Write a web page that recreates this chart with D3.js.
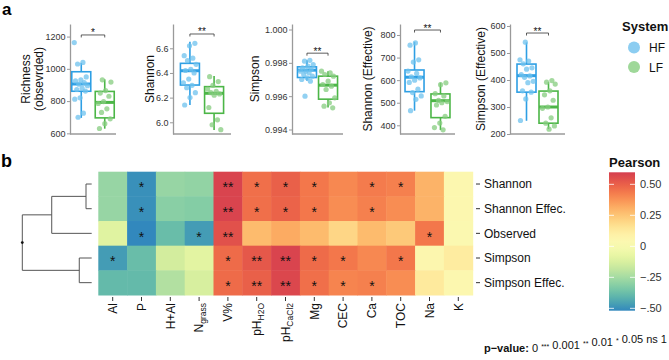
<!DOCTYPE html>
<html>
<head>
<meta charset="utf-8">
<script src="https://cdn.jsdelivr.net/npm/d3@7"></script>
<style>
  body { margin: 0; background: #fff; }
  svg { font-family: "Liberation Sans", Arial, sans-serif; }
</style>
</head>
<body>
<div id="container"></div>
<script>
/* CONSTANTS AND GLOBALS */
const width = 669, height = 360;

/* ---------- PANEL a DATA ---------- */
const groups = ["HF", "LF"];
const sigLabels = ["*", "**", "**", "**", "**"];
const sigY = [1210, 6.716, 0.99858, 822, 574]; // bracket height, in data units

// sample values (jittered dots)
const richnessHF = [1163, 1040, 1030, 950, 932, 925, 915, 905, 895, 880, 872, 862, 820, 812, 725, 700];
const richnessLF = [932, 918, 865, 850, 830, 797, 785, 752, 730, 690, 660, 630];
const shannonHF = [6.64, 6.62, 6.54, 6.52, 6.50, 6.47, 6.43, 6.42, 6.40, 6.35, 6.32, 6.30, 6.28, 6.24, 6.20, 6.14];
const shannonLF = [6.37, 6.33, 6.30, 6.27, 6.25, 6.24, 6.23, 6.22, 6.12, 6.02, 5.98, 5.94];
const simpsonHF = [0.99815, 0.9981, 0.9979, 0.9978, 0.9977, 0.9976, 0.9975, 0.9975, 0.9974, 0.9973, 0.9972, 0.9971, 0.9970, 0.9969, 0.9960];
const simpsonLF = [0.9975, 0.9974, 0.9973, 0.9972, 0.9969, 0.9967, 0.9966, 0.9964, 0.9959, 0.9956, 0.9954, 0.9953];
const shannonEffHF = [765, 755, 690, 680, 640, 630, 615, 610, 600, 590, 560, 545, 530, 515, 465];
const shannonEffLF = [588, 580, 540, 530, 510, 505, 500, 490, 440, 410, 390, 380];
const simpsonEffHF = [540, 475, 470, 460, 445, 440, 420, 415, 410, 395, 390, 360, 355, 330, 250];
const simpsonEffLF = [398, 392, 385, 360, 345, 325, 300, 295, 260, 240, 230, 218];

// box summaries: [lower whisker, Q1, median, Q3, upper whisker]
const richnessBoxHF = [696, 861, 906, 982, 1037];
const richnessBoxLF = [629, 696, 792, 860, 935];
const shannonBoxHF = [6.14, 6.302, 6.418, 6.478, 6.654];
const shannonBoxLF = [5.937, 6.073, 6.235, 6.289, 6.375];
const simpsonBoxHF = [0.99692, 0.99712, 0.99756, 0.99776, 0.99816];
const simpsonBoxLF = [0.99532, 0.99582, 0.99666, 0.9972, 0.9975];
const shannonEffBoxHF = [465, 549, 613, 645, 770];
const shannonEffBoxLF = [379, 434, 509, 539, 589];
const simpsonEffBoxHF = [249, 355, 416, 459, 539];
const simpsonEffBoxLF = [218, 240, 300, 359, 392];

// y tick labels
const richnessTicks = [600, 800, 1000, 1200];
const shannonTicks = [6.0, 6.2, 6.4, 6.6];
const simpsonTicks = [0.994, 0.996, 0.998, 1.000];
const shannonEffTicks = [400, 500, 600, 700, 800];
const simpsonEffTicks = [200, 300, 400, 500, 600];

/* ---------- PANEL b DATA ---------- */
const rowNames = ["Shannon", "Shannon Effec.", "Observed", "Simpson", "Simpson Effec."];
const colNames = ["Al", "P", "H+Al", "Ngrass", "V%", "pHH2O", "pHCaCl2", "Mg", "CEC", "Ca", "TOC", "Na", "K"];
const pearson = [
  [-0.28, -0.50, -0.28, -0.29, 0.58, 0.46, 0.50, 0.44, 0.40, 0.43, 0.42, 0.30, 0.05],
  [-0.28, -0.50, -0.31, -0.32, 0.58, 0.46, 0.49, 0.44, 0.39, 0.42, 0.39, 0.30, 0.05],
  [-0.10, -0.52, -0.38, -0.47, 0.54, 0.28, 0.32, 0.28, 0.20, 0.28, 0.24, 0.44, 0.04],
  [-0.47, -0.38, -0.14, -0.09, 0.47, 0.52, 0.58, 0.47, 0.44, 0.40, 0.44, 0.06, 0.12],
  [-0.39, -0.39, -0.22, -0.13, 0.47, 0.50, 0.57, 0.46, 0.41, 0.42, 0.39, 0.13, 0.05]
];
const signif = [
  ["", "*", "", "", "**", "*", "*", "*", "", "*", "*", "", ""],
  ["", "*", "", "", "**", "*", "*", "*", "", "*", "", "", ""],
  ["", "*", "", "*", "**", "", "", "", "", "", "", "*", ""],
  ["*", "", "", "", "*", "**", "**", "*", "*", "", "*", "", ""],
  ["", "", "", "", "*", "**", "**", "*", "*", "*", "", "", ""]
];
// hierarchical clustering of the rows (merge heights, root = 1)
const dendro = {
  h: 1, children: [
    { h: 0.576, children: [
      { h: 0.082, children: [{ name: "Shannon" }, { name: "Shannon Effec." }] },
      { name: "Observed" }
    ] },
    { h: 0.179, children: [{ name: "Simpson" }, { name: "Simpson Effec." }] }
  ]
};
const pearsonDomain = [-0.519, 0.597];
const legendTicks = [0.5, 0.25, 0, -0.25, -0.5];
const legendLabels = ["0.50", "0.25", "0", "\u2212.25", "\u2212.50"];

/* COLOURS */
const stroke = { HF: "#2e9fe4", LF: "#4cb647" };
const dotFill = { HF: "#6ec1ee", LF: "#86cc7f" };
const legendFill = { HF: "#8ccdf1", LF: "#9fd899" };

const svg = d3.select("#container").append("svg")
  .attr("width", width).attr("height", height);

/* ---------- PANEL a ---------- */
const panels = [
  { title: ["Richness", "(obsevrded)"], titleX: [29.5, 42.5], x0: 70, x1: 116, pad: 0.48,
    domain: [596, 1278], ticks: richnessTicks, fmt: d3.format("d"),
    hf: richnessHF, lf: richnessLF, boxHF: richnessBoxHF, boxLF: richnessBoxLF },
  { title: ["Shannon"], titleX: [154], x0: 173, x1: 231, pad: 0.7,
    domain: [5.905, 6.797], ticks: shannonTicks, fmt: d3.format(".1f"),
    hf: shannonHF, lf: shannonLF, boxHF: shannonBoxHF, boxLF: shannonBoxLF },
  { title: ["Simpson"], titleX: [259], x0: 292, x1: 343, pad: 0.71,
    domain: [0.99373, 1.00033], ticks: simpsonTicks, fmt: d3.format(".3f"),
    hf: simpsonHF, lf: simpsonLF, boxHF: simpsonBoxHF, boxLF: simpsonBoxLF },
  { title: ["Shannon (Effective)"], titleX: [372], x0: 400, x1: 455, pad: 0.56,
    domain: [361.5, 848.7], ticks: shannonEffTicks, fmt: d3.format("d"),
    hf: shannonEffHF, lf: shannonEffLF, boxHF: shannonEffBoxHF, boxLF: shannonEffBoxLF },
  { title: ["Simpson (Effective)"], titleX: [485], x0: 510, x1: 565, pad: 0.75,
    domain: [200, 607.4], ticks: simpsonEffTicks, fmt: d3.format("d"),
    hf: simpsonEffHF, lf: simpsonEffLF, boxHF: simpsonEffBoxHF, boxLF: simpsonEffBoxLF }
];

const plotTop = 24, plotBottom = 134, boxW = 19;
// fixed (non random) spread of the dots around the box centre
const jitter = i => (((i * 0.618034) % 1) - 0.5) * 14;

panels.forEach((p, pi) => {
  const y = d3.scaleLinear().domain(p.domain).range([plotBottom, plotTop]);
  const x = d3.scalePoint().domain(groups).range([p.x0, p.x1]).padding(p.pad);
  const g = svg.append("g");

  // y axis
  const ax = g.append("g")
    .attr("transform", `translate(${p.x0},0)`)
    .call(d3.axisLeft(y).tickValues(p.ticks).tickFormat(p.fmt).tickSize(3).tickSizeOuter(0).tickPadding(1.5));
  ax.select(".domain").attr("stroke", "#9a9a9a").attr("stroke-width", 1.3);
  ax.selectAll(".tick line").attr("stroke", "#9a9a9a");
  ax.selectAll(".tick text").attr("fill", "#333").style("font-size", "9px").style("font-family", "Liberation Sans, Arial, sans-serif");

  // x axis line
  g.append("line").attr("x1", p.x0).attr("x2", p.x1).attr("y1", plotBottom).attr("y2", plotBottom)
    .attr("stroke", "#9a9a9a").attr("stroke-width", 1.3);

  // axis title
  p.title.forEach((t, ti) => {
    g.append("text")
      .attr("transform", `translate(${p.titleX[ti]},${(plotTop + plotBottom) / 2}) rotate(-90)`)
      .attr("text-anchor", "middle")
      .style("font-size", "12px").attr("fill", "#111")
      .text(t);
  });

  // boxes
  groups.forEach(gr => {
    const s = gr === "HF" ? p.boxHF : p.boxLF;
    const vals = gr === "HF" ? p.hf : p.lf;
    const cx = x(gr);
    g.append("line").attr("x1", cx).attr("x2", cx).attr("y1", y(s[0])).attr("y2", y(s[1]))
      .attr("stroke", stroke[gr]).attr("stroke-width", 1.6);
    g.append("line").attr("x1", cx).attr("x2", cx).attr("y1", y(s[3])).attr("y2", y(s[4]))
      .attr("stroke", stroke[gr]).attr("stroke-width", 1.6);
    g.append("rect").attr("x", cx - boxW / 2).attr("y", y(s[3]))
      .attr("width", boxW).attr("height", y(s[1]) - y(s[3]))
      .attr("fill", "#fff").attr("stroke", stroke[gr]).attr("stroke-width", 1.6);
    g.append("line").attr("x1", cx - boxW / 2).attr("x2", cx + boxW / 2)
      .attr("y1", y(s[2])).attr("y2", y(s[2]))
      .attr("stroke", stroke[gr]).attr("stroke-width", 3);

    g.selectAll(null).data(vals).join("circle")
      .attr("cx", (d, i) => cx + jitter(i + pi * 3 + (gr === "LF" ? 7 : 0)))
      .attr("cy", d => y(d))
      .attr("r", 2.6)
      .attr("fill", dotFill[gr])
      .attr("opacity", 0.75);
  });

  // significance bracket
  const by = y(sigY[pi]);
  g.append("path")
    .attr("d", `M${x("HF")},${by + 2.5}V${by}H${x("LF")}V${by + 2.5}`)
    .attr("fill", "none").attr("stroke", "#333").attr("stroke-width", 0.8);
  g.append("text")
    .attr("x", (x("HF") + x("LF")) / 2).attr("y", by + 1.5)
    .attr("text-anchor", "middle").style("font-size", "10px").attr("fill", "#111")
    .text(sigLabels[pi]);
});

// panel a legend
svg.append("text").attr("x", 622).attr("y", 31)
  .style("font-size", "13px").style("font-weight", "bold").attr("fill", "#111").text("System");
const leg = svg.selectAll(".leg").data(groups).join("g").attr("class", "leg")
  .attr("transform", (d, i) => `translate(634,${47.5 + i * 19.5})`);
leg.append("circle").attr("r", 6).attr("fill", d => legendFill[d]);
leg.append("text").attr("x", 15).attr("y", 4.5).style("font-size", "12px").attr("fill", "#111").text(d => d);

// panel labels
svg.append("text").attr("x", 2).attr("y", 15).style("font-size", "17px").style("font-weight", "bold").text("a");
svg.append("text").attr("x", 1).attr("y", 167).style("font-size", "18px").style("font-weight", "bold").text("b");

/* ---------- PANEL b ---------- */
const colorScale = d3.scaleSequential(d3.interpolateRgbBasis(d3.schemeSpectral[9].slice().reverse()))
  .domain(pearsonDomain);

const xBand = d3.scaleBand().domain(colNames).range([98.3, 472.7]);
const yBand = d3.scaleBand().domain(rowNames).range([171.7, 295]);

const cells = [];
rowNames.forEach((r, ri) => colNames.forEach((c, ci) =>
  cells.push({ row: r, col: c, value: pearson[ri][ci], sig: signif[ri][ci] })));

svg.append("g").selectAll("rect").data(cells).join("rect")
  .attr("x", d => xBand(d.col)).attr("y", d => yBand(d.row))
  .attr("width", xBand.bandwidth() + 0.5).attr("height", yBand.bandwidth() + 0.5)
  .attr("fill", d => colorScale(d.value));

const starSize = 14;
svg.append("g").selectAll("text").data(cells.filter(d => d.sig)).join("text")
  .attr("x", d => xBand(d.col) + xBand.bandwidth() / 2)
  .attr("y", d => yBand(d.row) + yBand.bandwidth() / 2 + starSize * 0.6)
  .attr("text-anchor", "middle").style("font-size", starSize + "px").attr("fill", "#111")
  .text(d => d.sig);

// row axis (right)
const rowAxis = svg.append("g").attr("transform", "translate(474,0)");
rowNames.forEach(r => {
  const cy = yBand(r) + yBand.bandwidth() / 2;
  rowAxis.append("line").attr("x1", 2).attr("x2", 6).attr("y1", cy).attr("y2", cy).attr("stroke", "#333");
  rowAxis.append("text").attr("x", 10).attr("y", cy + 4.2).style("font-size", "12px").attr("fill", "#111").text(r);
});

// column axis (bottom) with subscripts
const subs = { Ngrass: ["N", "grass"], pHH2O: ["pH", "H2O"], pHCaCl2: ["pH", "CaCl2"] };
colNames.forEach(c => {
  const cx = xBand(c) + xBand.bandwidth() / 2;
  svg.append("line").attr("x1", cx).attr("x2", cx).attr("y1", 297).attr("y2", 301).attr("stroke", "#333");
  const t = svg.append("text")
    .attr("transform", `translate(${cx + 4.3},303) rotate(-90)`)
    .attr("text-anchor", "end").style("font-size", "12px").attr("fill", "#111");
  if (subs[c]) {
    t.append("tspan").text(subs[c][0]);
    t.append("tspan").attr("dy", 3).style("font-size", "8.5px").text(subs[c][1]);
  } else {
    t.text(c);
  }
});

// dendrogram
const root = d3.hierarchy(dendro);
const hx = d3.scaleLinear().domain([0, 1]).range([91.7, 22.3]);
root.eachAfter(n => {
  n.px = hx(n.data.h || 0);
  n.py = n.children
    ? (n.children[0].py + n.children[n.children.length - 1].py) / 2
    : yBand(n.data.name) + yBand.bandwidth() / 2;
});
const dg = svg.append("g").attr("fill", "none").attr("stroke", "#555").attr("stroke-width", 1);
root.each(n => {
  if (!n.children) return;
  dg.append("line").attr("x1", n.px).attr("x2", n.px)
    .attr("y1", n.children[0].py).attr("y2", n.children[n.children.length - 1].py);
  n.children.forEach(ch => {
    dg.append("line").attr("x1", n.px).attr("x2", ch.px).attr("y1", ch.py).attr("y2", ch.py);
  });
});
svg.append("circle").attr("cx", root.px).attr("cy", root.py).attr("r", 1.4).attr("fill", "#111");

// colour bar legend
const legY = d3.scaleLinear().domain(pearsonDomain).range([310.7, 172.3]);
const grad = svg.append("defs").append("linearGradient").attr("id", "pgrad")
  .attr("x1", 0).attr("y1", 1).attr("x2", 0).attr("y2", 0);
d3.range(0, 1.0001, 0.05).forEach(t => {
  grad.append("stop").attr("offset", t)
    .attr("stop-color", colorScale(pearsonDomain[0] + t * (pearsonDomain[1] - pearsonDomain[0])));
});
svg.append("text").attr("x", 609).attr("y", 167)
  .style("font-size", "13px").style("font-weight", "bold").attr("fill", "#111").text("Pearson");
svg.append("rect").attr("x", 609).attr("y", 172.3).attr("width", 26).attr("height", 138.4)
  .attr("fill", "url(#pgrad)");
legendTicks.forEach((v, i) => {
  const ty = legY(v);
  svg.append("line").attr("x1", 609).attr("x2", 614).attr("y1", ty).attr("y2", ty).attr("stroke", "#fff").attr("stroke-width", 0.8);
  svg.append("line").attr("x1", 630).attr("x2", 635).attr("y1", ty).attr("y2", ty).attr("stroke", "#fff").attr("stroke-width", 0.8);
  svg.append("text").attr("x", 640).attr("y", ty + 4).style("font-size", "11px").attr("fill", "#333").text(legendLabels[i]);
});

// p-value key
const pk = svg.append("text").attr("x", 667).attr("y", 352).attr("text-anchor", "end")
  .style("font-size", "11px").attr("fill", "#111");
pk.append("tspan").style("font-weight", "bold").text("p\u2212value:");
const keyParts = [[" 0 ", "***"], [" 0.001 ", "**"], [" 0.01 ", "*"], [" 0.05 ns 1", ""]];
keyParts.forEach(([txt, st]) => {
  pk.append("tspan").text(txt);
  if (st) {
    pk.append("tspan").attr("dy", -3).style("font-size", "7px").text(st);
    pk.append("tspan").attr("dy", 3).text("");
  }
});
</script>
</body>
</html>
